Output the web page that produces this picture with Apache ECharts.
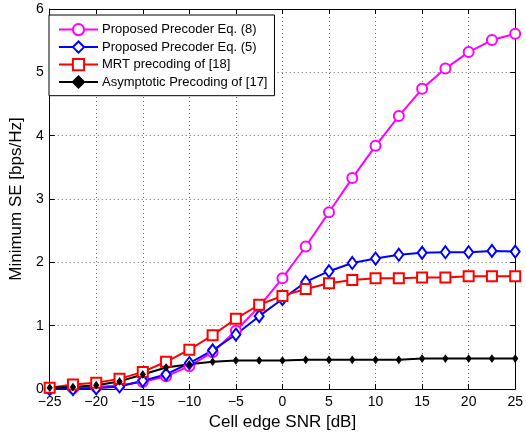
<!DOCTYPE html>
<html>
<head>
<meta charset="utf-8">
<script src="https://cdn.jsdelivr.net/npm/echarts@6/dist/echarts.min.js"></script>
<style>
  html, body { margin: 0; padding: 0; background: #fff; }
  #chart { width: 526px; height: 437px; }
</style>
</head>
<body>
<div id="chart"></div>
<script>
// SNR points (dB)
const snr = [-25, -22.5, -20, -17.5, -15, -12.5, -10, -7.5, -5, -2.5, 0, 2.5, 5, 7.5, 10, 12.5, 15, 17.5, 20, 22.5, 25]

// Minimum SE values
const eq8 = [0.0, 0.01, 0.03, 0.06, 0.11, 0.20, 0.36, 0.58, 0.92, 1.30, 1.75, 2.25, 2.79, 3.33, 3.84, 4.31, 4.74, 5.06, 5.32, 5.51, 5.61]
const eq5 = [0.0, 0.0, 0.01, 0.04, 0.13, 0.23, 0.41, 0.61, 0.86, 1.15, 1.42, 1.69, 1.86, 1.99, 2.06, 2.12, 2.15, 2.16, 2.16, 2.18, 2.17]
const mrt = [0.02, 0.07, 0.10, 0.16, 0.27, 0.43, 0.62, 0.85, 1.11, 1.33, 1.47, 1.58, 1.67, 1.72, 1.75, 1.75, 1.76, 1.76, 1.78, 1.78, 1.78]
const asym = [0.02, 0.03, 0.06, 0.12, 0.23, 0.34, 0.39, 0.43, 0.45, 0.45, 0.45, 0.46, 0.46, 0.46, 0.46, 0.46, 0.48, 0.48, 0.48, 0.48, 0.48]

const names = [
  'Proposed Precoder Eq. (8)',
  'Proposed Precoder Eq. (5)',
  'MRT precoding of [18]',
  'Asymptotic Precoding of [17]'
]

const font = 'Liberation Sans, Arial, Helvetica, sans-serif'
const pair = arr => snr.map((x, i) => [x, arr[i]])
const minus = v => String(v).replace('-', '\u2212')

const chart = echarts.init(document.getElementById('chart'), null, { renderer: 'canvas' })

// 线条样式
function line(name, data, color, symbol, size, filled) {
  return {
    name,
    type: 'line',
    data,
    symbol,
    symbolSize: size,
    showSymbol: true,
    lineStyle: { color, width: 2 },
    itemStyle: filled
      ? { color, borderColor: color, borderWidth: 1 }
      : { color: '#fff', borderColor: color, borderWidth: 2 },
    emphasis: { disabled: true },
    animation: false
  }
}

const boxAxis = {
  axisLine: { show: true, onZero: false, lineStyle: { color: '#000', width: 1 } },
  axisTick: { show: true, inside: true, length: 5, lineStyle: { color: '#000' } }
}

const grid = { show: true, lineStyle: { color: '#666', type: [1, 3], width: 1 } }

const option = {
  backgroundColor: '#fff',
  animation: false,
  grid: { left: 41, right: 7, top: 9, bottom: 48, containLabel: false },
  legend: {
    orient: 'vertical',
    left: 49,
    top: 15,
    padding: [8, 7, 7, 9],
    itemGap: 4.3,
    itemWidth: 39,
    itemHeight: 14,
    backgroundColor: '#fff',
    borderColor: '#000',
    borderWidth: 1,
    textStyle: { fontFamily: font, fontSize: 13, color: '#000', padding: [0, 0, 0, -1] },
    data: names
  },
  xAxis: [
    {
      type: 'value',
      min: -25,
      max: 25,
      interval: 5,
      name: 'Cell edge SNR [dB]',
      nameLocation: 'middle',
      nameGap: 25,
      nameTextStyle: { fontFamily: font, fontSize: 17, color: '#000' },
      ...boxAxis,
      axisLabel: { fontFamily: font, fontSize: 14, color: '#000', margin: 6, formatter: minus },
      splitLine: grid
    },
    {
      type: 'value',
      position: 'top',
      min: -25,
      max: 25,
      interval: 5,
      ...boxAxis,
      axisLabel: { show: false },
      splitLine: { show: false }
    }
  ],
  yAxis: [
    {
      type: 'value',
      min: 0,
      max: 6,
      interval: 1,
      name: 'Minimum SE [bps/Hz]',
      nameLocation: 'middle',
      nameGap: 17,
      nameTextStyle: { fontFamily: font, fontSize: 17, color: '#000' },
      ...boxAxis,
      axisLabel: { fontFamily: font, fontSize: 14, color: '#000', margin: 6 },
      splitLine: grid
    },
    {
      type: 'value',
      position: 'right',
      min: 0,
      max: 6,
      interval: 1,
      ...boxAxis,
      axisLabel: { show: false },
      splitLine: { show: false }
    }
  ],
  series: [
    line(names[0], pair(eq8), '#ff00ff', 'circle', 10, false),
    line(names[1], pair(eq5), '#0000ff', 'diamond', [9, 12], false),
    line(names[2], pair(mrt), '#ff0000', 'rect', 10, false),
    line(names[3], pair(asym), '#000000', 'diamond', [5, 7], true)
  ]
}

chart.setOption(option)
</script>
</body>
</html>
